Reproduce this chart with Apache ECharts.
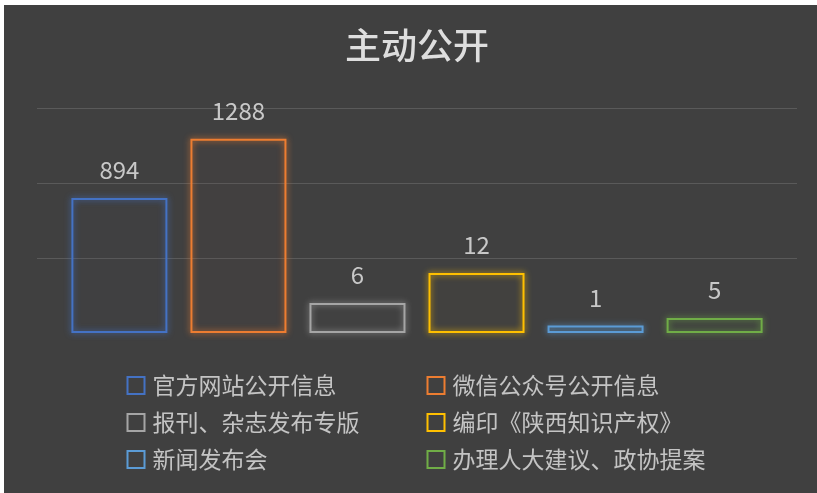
<!DOCTYPE html>
<html>
<head>
<meta charset="utf-8">
<script src="https://cdn.jsdelivr.net/npm/echarts@6/dist/echarts.min.js"></script>
<style>
  html, body { margin: 0; padding: 0; background: #ffffff; }
  #main { position: absolute; left: 4px; top: 5px; width: 813px; height: 488px; background: #404040; }
</style>
</head>
<body>
<div id="main"></div>
<script>
	var seriesNames = ['官方网站公开信息', '微信公众号公开信息', '报刊、杂志发布专版', '编印《陕西知识产权》', '新闻发布会', '办理人大建议、政协提案'];
	// heights as drawn in the original chart (it does not use one common scale)
	var barHeights = [180, 259, 40, 80, 10, 20];
	// numbers printed above the bars
	var barLabels = ['894', '1288', '6', '12', '1', '5'];
	var barColors = ['#4472C4', '#ED7D31', '#A5A5A5', '#FFC000', '#5B9BD5', '#70AD47'];
	var yTicks = [0, 100, 200, 300];

	var myChart = echarts.init(document.getElementById('main'));

	var series = seriesNames.map(function (name, i) {
		return {
			name: name,
			type: 'bar',
			barWidth: 96,
			barGap: '24%',
			data: [barHeights[i]],
			itemStyle: {
				color: 'rgba(64,64,64,0.01)',
				borderColor: barColors[i],
				borderWidth: 2,
				shadowBlur: 6,
				shadowColor: barColors[i]
			},
			label: {
				show: true,
				position: 'top',
				distance: 16,
				color: '#c8c8c8',
				fontSize: 24,
				fontFamily: 'Noto Sans CJK SC',
				formatter: function () { return barLabels[i]; }
			}
		};
	});

	function legendData(idx) {
		return idx.map(function (i) {
			return {
				name: seriesNames[i],
				icon: 'rect',
				itemStyle: { color: 'none', borderColor: barColors[i], borderWidth: 2, shadowBlur: 0, shadowColor: 'rgba(0,0,0,0)' }
			};
		});
	}

	var legendText = { color: '#c4c4c4', fontSize: 23, fontFamily: 'Noto Sans CJK SC', padding: [0, 0, 0, 3] };

	var option = {
		backgroundColor: '#404040',
		animation: false,
		title: {
			text: '主动公开',
			left: 336,
			top: 17,
			textStyle: { color: '#dedede', fontSize: 36, fontWeight: 500, fontFamily: 'Noto Sans CJK SC' }
		},
		legend: [
			{ orient: 'vertical', left: 116, top: 364, itemWidth: 17, itemHeight: 17, itemGap: 14, textStyle: legendText, data: legendData([0, 2, 4]) },
			{ orient: 'vertical', left: 416, top: 364, itemWidth: 17, itemHeight: 17, itemGap: 14, textStyle: legendText, data: legendData([1, 3, 5]) }
		],
		grid: { left: 33, right: 20, top: 103, bottom: 160 },
		xAxis: {
			type: 'category',
			data: [''],
			axisLine: { show: false },
			axisTick: { show: false },
			axisLabel: { show: false }
		},
		yAxis: {
			type: 'value',
			min: yTicks[0],
			max: yTicks[yTicks.length - 1],
			interval: yTicks[1] - yTicks[0],
			axisLabel: { show: false },
			axisLine: { show: false },
			axisTick: { show: false },
			splitLine: { lineStyle: { color: ['rgba(0,0,0,0)', '#5a5a5a', '#5a5a5a', '#5a5a5a'], width: 1 } }
		},
		series: series
	};
	myChart.setOption(option);
</script>
</body>
</html>
